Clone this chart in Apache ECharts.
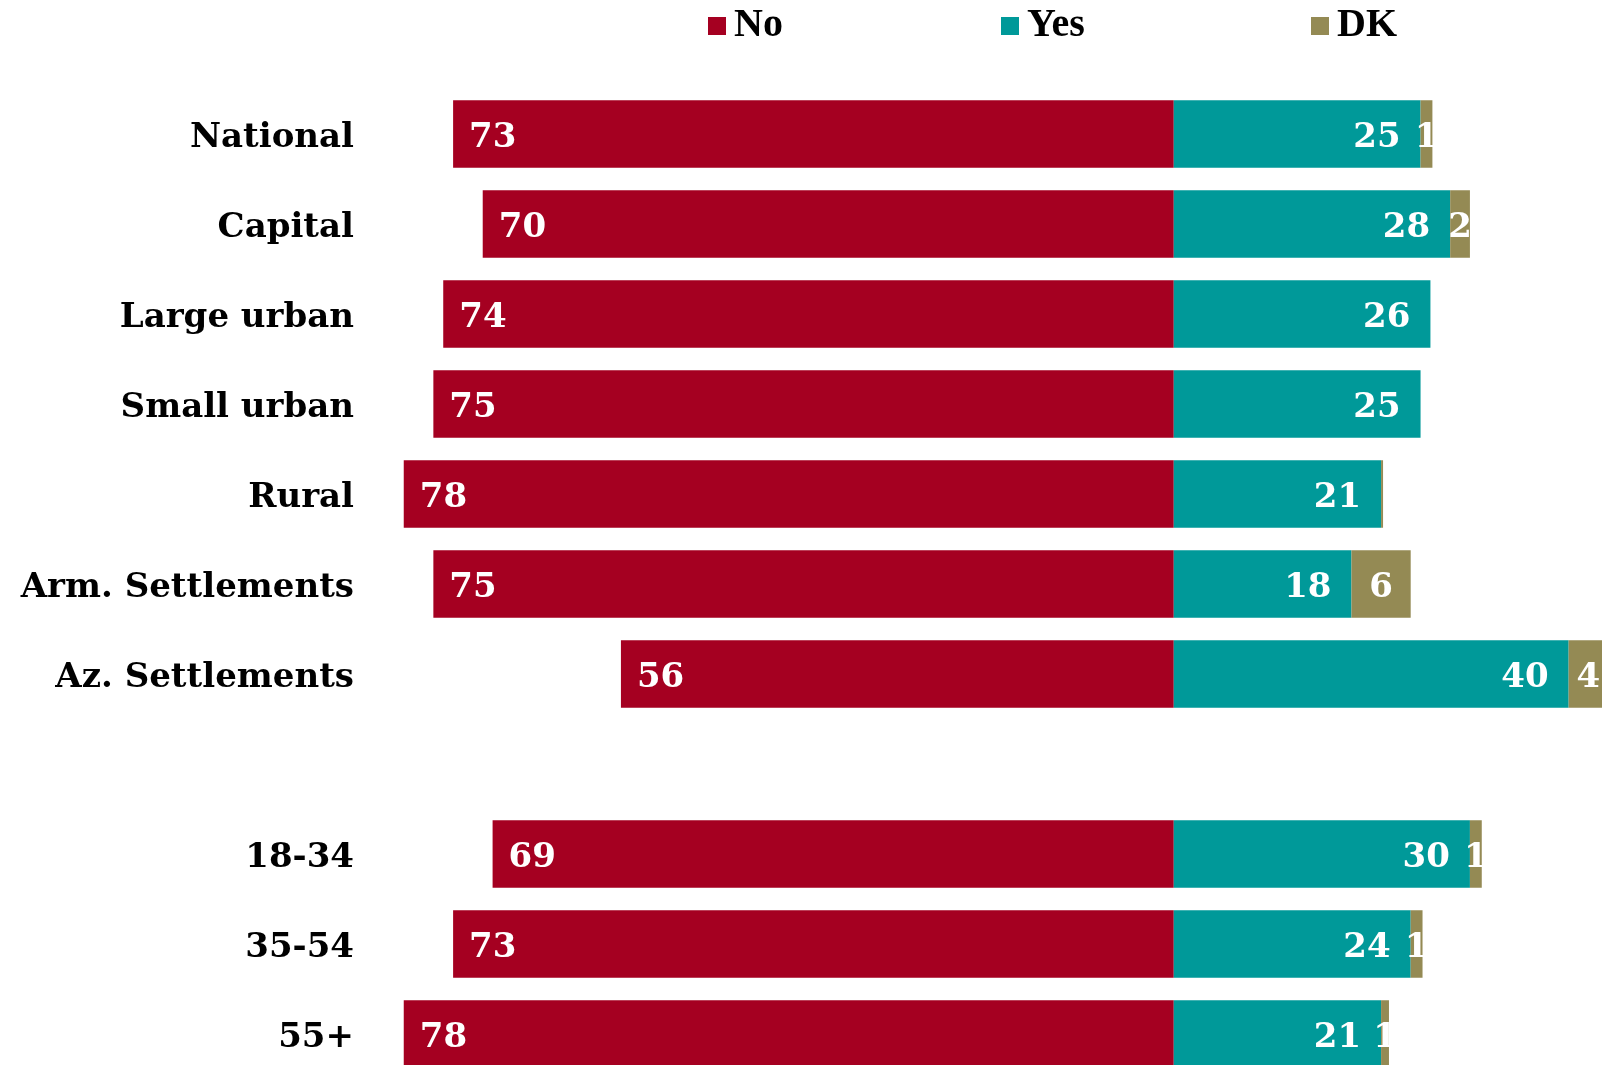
<!DOCTYPE html>
<html>
<head>
<meta charset="utf-8">
<script src="https://cdn.jsdelivr.net/npm/echarts@6/dist/echarts.min.js"></script>
<style>
html,body{margin:0;padding:0;background:#fff;overflow:hidden;}
#chart{width:1640px;height:1100px;}
</style>
</head>
<body>
<div id="chart"></div>
<script>
const categories = ['National','Capital','Large urban','Small urban','Rural','Arm. Settlements','Az. Settlements','','18-34','35-54','55+'];
const legendNames = ['No','Yes','DK'];
const noValues  = [73, 70, 74, 75, 78, 75, 56, null, 69, 73, 78];
const yesValues = [25, 28, 26, 25, 21, 18, 40, null, 30, 24, 21];
const dkValues  = [1.2, 2, 0, 0, 0.2, 6, 4, null, 1.2, 1.2, 0.8];

const serif = '"DejaVu Serif", serif';
const chart = echarts.init(document.getElementById('chart'));
const lbl = {color:'#fff', fontFamily:serif, fontSize:34, fontWeight:'bold', offset:[0,4]};
const legendLeft = [708, 1001, 1311];
chart.setOption({
  animation:false,
  backgroundColor:'#fff',
  legend: legendNames.map((n,i)=>({
    data:[n],
    left:legendLeft[i], top:6, padding:0,
    itemWidth:18, itemHeight:18,
    icon:'rect',
    textStyle:{fontFamily:'"Liberation Serif", serif', fontWeight:'bold', fontSize:40, color:'#000', padding:[0,0,0,3]}
  })),
  grid:{left:384, right:22, top:89, bottom:21, containLabel:false},
  xAxis:{type:'value', min:-80, max:45, show:false},
  yAxis:{type:'category', data:categories, inverse:true,
    axisLine:{show:false}, axisTick:{show:false}, splitLine:{show:false},
    axisLabel:{margin:30, color:'#000', fontFamily:serif, fontWeight:'bold', fontSize:34,
      formatter:v=>'{a|'+v+'}',
      rich:{a:{color:'#000', fontFamily:serif, fontWeight:'bold', fontSize:34, padding:[8,0,0,0], backgroundColor:'rgba(255,255,255,0)'}}
    }
  },
  series:[
    {name:'No', type:'bar', stack:'a', barCategoryGap:'25%',
      data:noValues.map(v=>v==null?null:-v),
      itemStyle:{color:'#A50021'},
      label:{show:true, position:'insideLeft', distance:16, ...lbl, formatter:p=>p.value==null?'':Math.abs(p.value)}
    },
    {name:'Yes', type:'bar', stack:'a',
      data:yesValues,
      itemStyle:{color:'#009999'},
      label:{show:true, position:'insideRight', distance:20, ...lbl, formatter:p=>p.value==null?'':p.value}
    },
    {name:'DK', type:'bar', stack:'a',
      data:dkValues,
      itemStyle:{color:'#948A54'},
      label:{show:true, position:'inside', ...lbl, formatter:p=>(p.value==null||p.value<0.5)?'':Math.round(p.value)}
    }
  ]
});
</script>
</body>
</html>
